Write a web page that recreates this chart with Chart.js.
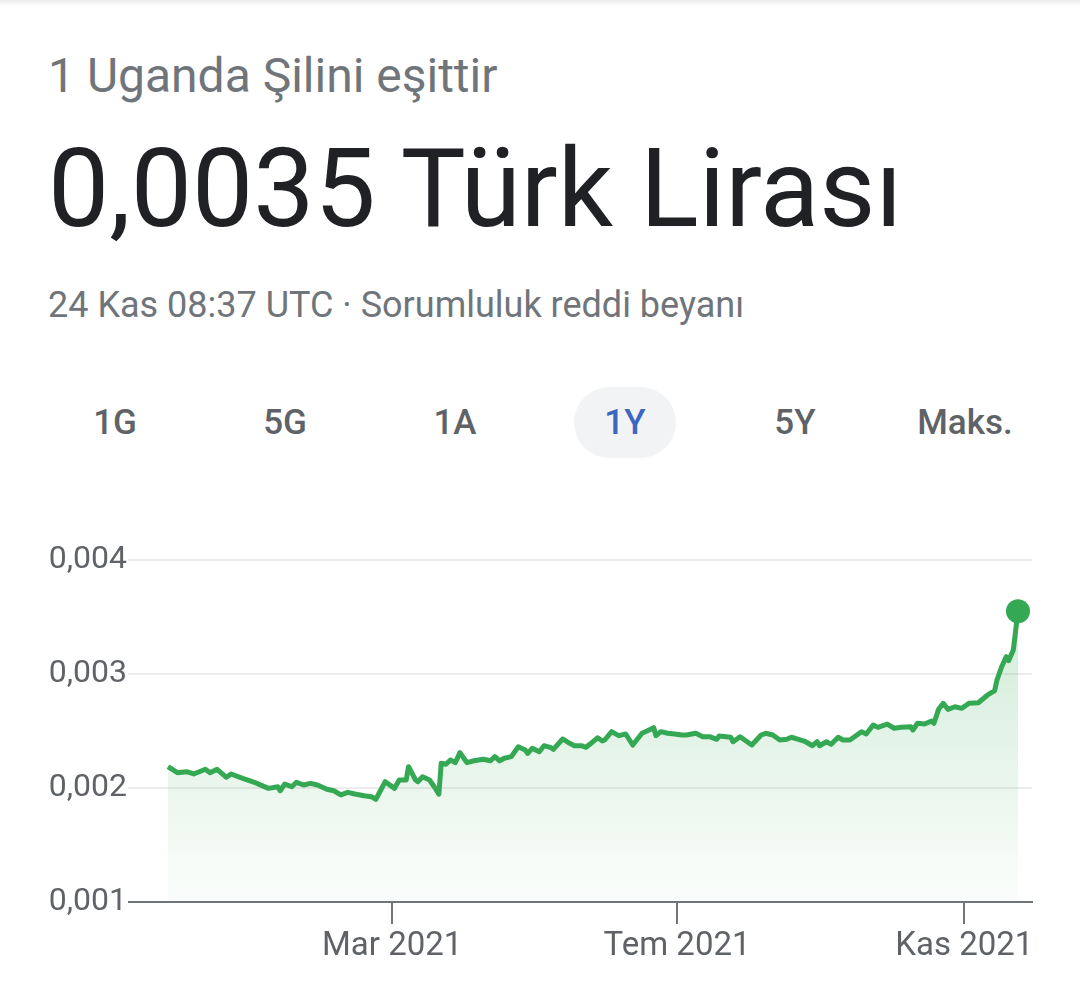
<!DOCTYPE html>
<html lang="tr">
<head>
<meta charset="utf-8">
<script src="https://cdn.jsdelivr.net/npm/chart.js@4/dist/chart.umd.min.js"></script>
<style>
  html, body { margin: 0; padding: 0; background: #fff; }
  body { width: 1080px; height: 991px; position: relative; overflow: hidden; font-family: Roboto, "Noto Sans", sans-serif; }
  .topShade { position: absolute; left: 0; top: 0; width: 1080px; height: 6px; background: linear-gradient(#ececec, #fff); }
  .txt { position: absolute; left: 48px; white-space: nowrap; line-height: 1; }
  #unit { top: 52px; font-size: 48px; color: #70757a; }
  #price { top: 135px; font-size: 109px; color: #202124; }
  #stamp { top: 287px; font-size: 36px; color: #70757a; }
  .btn { position: absolute; top: 387px; width: 102px; height: 71px; margin-left: -51px; border-radius: 36px;
         font-size: 35px; font-weight: 500; color: #5f6368; text-align: center; line-height: 71px; }
  .btn.on { background: #f1f3f5; color: #3b67c0; }
  #wrap { position: absolute; left: 0; top: 520px; width: 1080px; height: 471px; }
</style>
</head>
<body>
<div class="topShade"></div>
<div class="txt" id="unit">1 Uganda Şilini eşittir</div>
<div class="txt" id="price">0,0035 Türk Lirası</div>
<div class="txt" id="stamp">24 Kas 08:37 UTC · Sorumluluk reddi beyanı</div>
<div id="btns"></div>
<div id="wrap"><canvas id="chart" width="1080" height="471"></canvas></div>

<script>
// days counted from 24 Kas 2020
const days = [1,5,9,12,17,19,22,26,28,33,38,40,44,48,49,51,54,56,59,62,65,69,72,75,78,81,85,88,90,
  94,98,100,103,104,107,108,110,113,115,117,118,120,122,124,126,129,132,136,139,141,143,145,148,
  151,154,155,157,160,162,165,166,170,173,175,178,180,183,185,187,188,191,194,197,200,204,207,209,
  210,212,215,218,221,223,227,230,233,236,237,242,243,246,249,251,255,257,260,263,266,268,271,274,
  277,279,280,283,285,288,290,293,295,298,300,303,305,309,312,315,319,320,322,325,328,329,331,333,
  335,338,341,344,348,352,355,356,358,360,361,363,365];

const rates = [0.002187,0.002134,0.002143,0.002123,0.002164,0.002134,0.002164,0.002094,0.002123,
  0.002085,0.002050,0.002032,0.001997,0.002011,0.001976,0.002035,0.002011,0.002050,0.002026,0.002041,
  0.002026,0.001989,0.001976,0.001939,0.001962,0.001947,0.001932,0.001924,0.001901,
  0.002055,0.001997,0.002070,0.002070,0.002187,0.002070,0.002055,0.002099,0.002070,0.002011,0.001947,
  0.002217,0.002208,0.002246,0.002222,0.002310,0.002222,0.002239,0.002252,0.002239,0.002275,0.002239,
  0.002261,0.002275,0.002362,0.002333,0.002304,0.002348,0.002318,0.002371,0.002354,0.002339,0.002430,
  0.002392,0.002371,0.002371,0.002357,0.002406,0.002441,0.002412,0.002421,0.002494,0.002459,0.002474,
  0.002377,0.002480,0.002509,0.002529,0.002459,0.002494,0.002480,0.002474,0.002465,0.002465,0.002480,
  0.002450,0.002450,0.002427,0.002456,0.002445,0.002406,0.002450,0.002406,0.002377,0.002465,0.002480,
  0.002465,0.002421,0.002427,0.002445,0.002427,0.002406,0.002371,0.002406,0.002371,0.002406,0.002383,
  0.002445,0.002421,0.002421,0.002450,0.002494,0.002474,0.002553,0.002532,0.002561,0.002524,0.002532,
  0.002538,0.002509,0.002568,0.002561,0.002588,0.002568,0.002690,0.002743,0.002690,0.002713,0.002699,
  0.002743,0.002748,0.002816,0.002854,0.002947,0.003064,0.003152,0.003117,0.003211,0.00355];

const yTicks = [0.001, 0.002, 0.003, 0.004];
const xTickDays = [97, 219, 342];
const xTickLabels = ["Mar 2021", "Tem 2021", "Kas 2021"];

const ranges = ["1G", "5G", "1A", "1Y", "5Y", "Maks."];
const selectedRange = "1Y";

// range buttons
const btns = document.getElementById("btns");
ranges.forEach((r, i) => {
    const b = document.createElement("div");
    b.className = "btn" + (r === selectedRange ? " on" : "");
    b.style.left = (115 + i * 170) + "px";
    b.textContent = r;
    btns.appendChild(b);
});

const green = "#34a853";
const axisGray = "#70757a";

const points = days.map((d, i) => ({ x: d, y: rates[i] }));

new Chart(document.getElementById("chart"), {
    type: "line",
    data: {
        datasets: [{
            data: points,
            borderColor: green,
            borderWidth: 5,
            borderJoinStyle: "round",
            tension: 0,
            fill: "start",
            backgroundColor: ctx => {
                const area = ctx.chart.chartArea;
                if (!area) return "rgba(52,168,83,0.1)";
                const g = ctx.chart.ctx.createLinearGradient(0, area.top, 0, area.bottom);
                g.addColorStop(0, "rgba(52,168,83,0.26)");
                g.addColorStop(1, "rgba(52,168,83,0.02)");
                return g;
            },
            pointRadius: ctx => ctx.dataIndex === days.length - 1 ? 12 : 0,
            pointBackgroundColor: green,
            pointBorderWidth: 0,
            pointHoverRadius: 0
        }]
    },
    options: {
        responsive: false,
        animation: false,
        devicePixelRatio: 1,
        layout: { padding: { top: 40, right: 48, left: 0, bottom: 0 } },
        plugins: { legend: { display: false }, tooltip: { enabled: false } },
        scales: {
            x: {
                type: "linear",
                min: -14,
                max: 371,
                afterBuildTicks: s => { s.ticks = xTickDays.map(v => ({ value: v })); },
                afterFit: s => { s.height = 89; },
                grid: { drawOnChartArea: false, drawTicks: true, tickLength: 22, color: axisGray, lineWidth: 2 },
                border: { display: true, color: axisGray, width: 2 },
                ticks: {
                    autoSkip: false,
                    maxRotation: 0,
                    padding: 3,
                    color: "#5f6368",
                    font: { family: "Roboto", size: 33 },
                    callback: v => xTickLabels[xTickDays.indexOf(v)]
                }
            },
            y: {
                min: 0.001,
                max: 0.004,
                afterBuildTicks: s => { s.ticks = yTicks.map(v => ({ value: v })); },
                afterFit: s => { s.width = 133; },
                grid: {
                    color: c => c.tick && c.tick.value === 0.001 ? axisGray : "#ececec",
                    lineWidth: 2,
                    drawTicks: true,
                    tickLength: 5
                },
                border: { display: false },
                ticks: {
                    padding: 1,
                    color: "#5f6368",
                    font: { family: "Roboto", size: 32 },
                    callback: v => v.toFixed(3).replace(".", ",")
                }
            }
        }
    }
});
</script>
</body>
</html>
